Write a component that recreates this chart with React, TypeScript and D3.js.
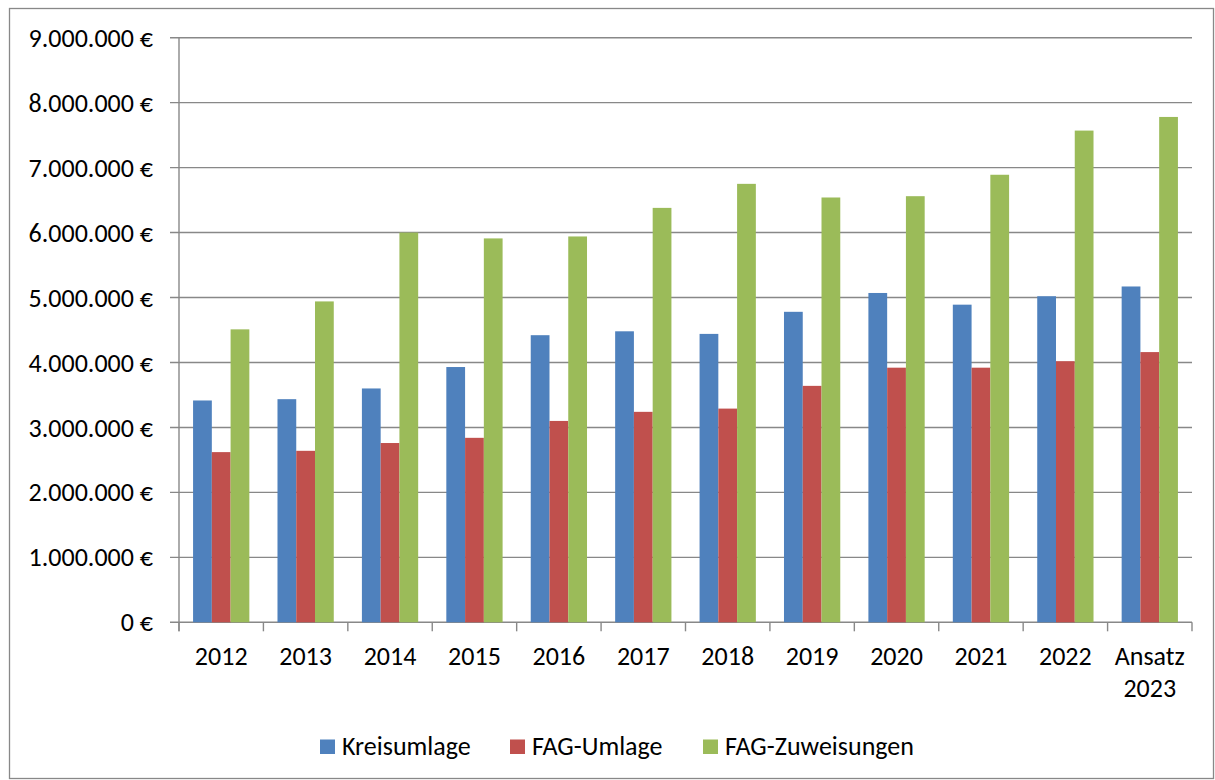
import React from "react";
import * as d3 from "d3";

const categories: string[] = ["2012", "2013", "2014", "2015", "2016", "2017", "2018", "2019", "2020", "2021", "2022", "Ansatz 2023"];
const seriesNames: string[] = ["Kreisumlage", "FAG-Umlage", "FAG-Zuweisungen"];
const kreisumlage: number[] = [3415000, 3435000, 3600000, 3930000, 4420000, 4480000, 4440000, 4780000, 5070000, 4890000, 5020000, 5170000];
const fagUmlage: number[] = [2620000, 2640000, 2760000, 2840000, 3100000, 3240000, 3290000, 3640000, 3920000, 3920000, 4020000, 4160000];
const fagZuweisungen: number[] = [4510000, 4940000, 6000000, 5910000, 5940000, 6380000, 6750000, 6540000, 6560000, 6890000, 7570000, 7780000];
const yTicks: number[] = [0, 1000000, 2000000, 3000000, 4000000, 5000000, 6000000, 7000000, 8000000, 9000000];
const colors: string[] = ["#4F81BD", "#C0504D", "#9BBB59"];

const W = 1215;
const H = 780;
const FONT = "Carlito, Calibri, Lato, 'Open Sans', sans-serif";

export default function App() {
  const values = [kreisumlage, fagUmlage, fagZuweisungen];
  const x0 = d3.scaleBand<string>().domain(categories).range([179, 1192]).padding(0);
  const bw = x0.bandwidth();
  const barW = bw / 4.5;
  const x1 = d3
    .scaleBand<string>()
    .domain(seriesNames)
    .range([(bw - 3 * barW) / 2, (bw + 3 * barW) / 2])
    .padding(0);
  const y = d3.scaleLinear().domain([0, 9000000]).range([622.3, 37.7]);
  const locale = d3.formatLocale({ decimal: ",", thousands: ".", grouping: [3], currency: ["", " €"] });
  const fmt = locale.format(",.0f");
  const gridColor = "#888888";

  const boundaries = categories.map((c) => x0(c) as number).concat([1192]);

  const legendItems = [
    { name: seriesNames[0], x: 320 },
    { name: seriesNames[1], x: 510 },
    { name: seriesNames[2], x: 703 },
  ];

  return (
    <svg width={W} height={H} style={{ position: "absolute", left: 0, top: 0, background: "#fff" }} fontFamily={FONT}>
      <rect x={9.5} y={8.5} width={1204} height={770} fill="#fff" stroke={gridColor} strokeWidth={1.3} />
      {yTicks.map((t) => (
        <g key={t}>
          <line x1={170} x2={1192} y1={y(t)} y2={y(t)} stroke={gridColor} strokeWidth={1.4} />
          <text x={153} y={y(t)} dy="0.35em" textAnchor="end" fontSize={26} fill="#000">
            {fmt(t) + " €"}
          </text>
        </g>
      ))}
      <line x1={179} x2={179} y1={y(9000000)} y2={y(0) + 9} stroke={gridColor} strokeWidth={1.4} />
      {boundaries.map((b, i) => (
        <line key={i} x1={b} x2={b} y1={y(0)} y2={y(0) + 9} stroke={gridColor} strokeWidth={1.4} />
      ))}
      {categories.map((c, ci) => (
        <g key={c} transform={`translate(${x0(c)},0)`}>
          {seriesNames.map((s, si) => (
            <rect
              key={s}
              x={x1(s) as number}
              y={y(values[si][ci])}
              width={barW}
              height={y(0) - y(values[si][ci])}
              fill={colors[si]}
            />
          ))}
        </g>
      ))}
      {categories.map((c) => {
        const parts = c.split(" ");
        const cx = (x0(c) as number) + bw / 2;
        return (
          <text key={c} x={cx} y={665} textAnchor="middle" fontSize={26} fill="#000">
            {parts.map((p, i) => (
              <tspan key={i} x={cx} dy={i === 0 ? 0 : 32}>
                {p}
              </tspan>
            ))}
          </text>
        );
      })}
      {legendItems.map((l, i) => (
        <g key={l.name}>
          <rect x={l.x} y={739.5} width={15} height={14.5} fill={colors[i]} />
          <text x={l.x + 22} y={754.5} fontSize={26} fill="#000">
            {l.name}
          </text>
        </g>
      ))}
    </svg>
  );
}
